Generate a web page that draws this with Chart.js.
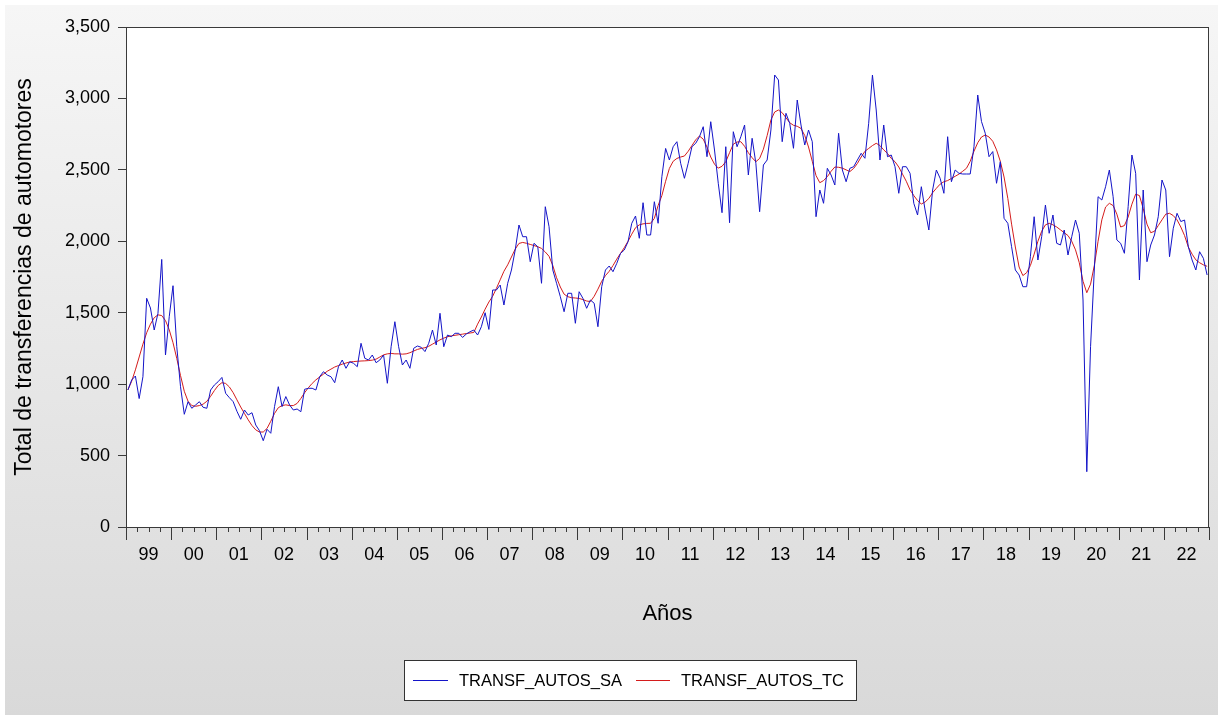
<!DOCTYPE html>
<html><head><meta charset="utf-8">
<script src="https://cdn.jsdelivr.net/npm/chart.js@4.4.0/dist/chart.umd.min.js"></script>
<style>html,body{margin:0;padding:0;background:#fff;overflow:hidden}canvas{display:block}</style>
</head><body>
<canvas id="c" width="1218" height="715"></canvas>
<script>
// ---- data (monthly, 1999M01 .. 2022M12) ----
const yearLabels = ['99','00','01','02','03','04','05','06','07','08','09','10','11','12','13','14','15','16','17','18','19','20','21','22'];
const yTickValues = [0,500,1000,1500,2000,2500,3000,3500];
const seriesNames = ['TRANSF_AUTOS_SA','TRANSF_AUTOS_TC'];
const yAxisTitle = 'Total de transferencias de automotores';
const xAxisTitle = 'Años';

const saValues = [
 959,1029,1057,899,1052,1601,1533,1379,1496,1873,1204,1472,
 1689,1262,982,789,877,831,854,877,838,831,959,994,
 1017,1047,936,905,877,810,754,819,784,800,714,674,
 604,684,656,843,982,843,913,854,819,826,807,964,
 971,971,959,1052,1087,1064,1052,1010,1122,1169,1111,1157,
 1146,1122,1286,1181,1169,1204,1150,1169,1204,1006,1262,1437,
 1262,1134,1169,1111,1251,1267,1258,1228,1286,1379,1274,1496,
 1262,1344,1332,1356,1356,1327,1351,1367,1379,1344,1402,1500,
 1383,1659,1659,1694,1554,1706,1799,1939,2114,2032,2032,1857,
 1986,1962,1706,2242,2102,1799,1706,1612,1507,1636,1636,1426,
 1647,1601,1531,1589,1566,1402,1682,1799,1827,1787,1845,1915,
 1939,1997,2126,2177,2021,2270,2044,2044,2277,2126,2452,2650,
 2569,2662,2697,2546,2441,2546,2662,2686,2732,2802,2592,2837,
 2639,2406,2200,2662,2130,2767,2662,2732,2814,2464,2721,2546,
 2207,2534,2569,2779,3164,3129,2697,2896,2826,2651,2989,2814,
 2674,2779,2697,2172,2359,2266,2511,2464,2394,2756,2499,2417,
 2511,2522,2569,2616,2581,2826,3164,2919,2569,2814,2592,2604,
 2522,2336,2522,2522,2476,2266,2184,2382,2219,2079,2359,2499,
 2441,2336,2732,2417,2499,2476,2471,2471,2471,2662,3024,2838,
 2756,2592,2628,2406,2557,2161,2126,1962,1799,1764,1682,1682,
 1892,2172,1869,2032,2254,2056,2184,1986,1974,2079,1904,2032,
 2149,2056,1589,387,1262,1799,2312,2289,2382,2499,2312,2009,
 1986,1916,2242,2604,2476,1729,2359,1857,1974,2044,2172,2429,
 2359,1892,2091,2196,2138,2149,1962,1869,1799,1927,1881,1764
];

const tcValues = [
 960,1020,1100,1190,1280,1360,1420,1465,1485,1480,1445,1380,
 1290,1180,1060,950,880,850,845,850,860,880,915,955,
 990,1010,1005,980,940,890,840,795,750,710,680,665,
 665,690,740,795,835,850,855,850,850,865,900,940,
 975,1005,1030,1050,1070,1090,1105,1120,1130,1140,1148,1155,
 1158,1160,1162,1163,1165,1168,1175,1190,1205,1212,1215,1212,
 1212,1210,1212,1220,1232,1243,1250,1255,1265,1280,1295,1310,
 1322,1332,1338,1342,1346,1350,1354,1358,1362,1420,1470,1525,
 1575,1615,1670,1730,1790,1835,1890,1945,1985,1992,1986,1978,
 1970,1962,1950,1925,1895,1830,1745,1680,1630,1612,1605,1603,
 1600,1592,1582,1578,1615,1665,1720,1760,1790,1830,1875,1915,
 1955,2000,2050,2095,2115,2122,2125,2126,2160,2250,2320,2420,
 2510,2560,2580,2590,2597,2630,2670,2710,2737,2715,2660,2590,
 2540,2512,2525,2557,2620,2680,2695,2697,2665,2620,2585,2557,
 2580,2645,2740,2849,2905,2919,2900,2865,2830,2812,2805,2790,
 2740,2660,2560,2460,2410,2425,2452,2490,2520,2518,2512,2500,
 2488,2510,2545,2590,2630,2650,2670,2686,2670,2640,2615,2580,
 2557,2520,2470,2420,2360,2320,2285,2261,2275,2300,2340,2371,
 2400,2417,2425,2440,2455,2470,2490,2511,2560,2630,2690,2730,
 2744,2730,2700,2640,2560,2450,2300,2120,1960,1820,1760,1780,
 1830,1910,2000,2070,2115,2126,2115,2100,2080,2060,2040,2000,
 1940,1850,1720,1640,1700,1830,2000,2150,2240,2266,2250,2190,
 2100,2110,2170,2260,2330,2320,2230,2120,2060,2070,2110,2150,
 2190,2196,2180,2150,2100,2040,1960,1910,1870,1850,1835,1825
];

// ---- chart ----
const FONT = "'Liberation Sans', Arial, Helvetica, sans-serif";
const toPoints = arr => arr.map((v, i) => ({ x: i + 0.5, y: v }));
const nMonths = yearLabels.length * 12;

const backgroundPlugin = {
  id: 'bg',
  beforeDraw(chart) {
    const { ctx, width, height } = chart;
    ctx.save();
    ctx.fillStyle = '#ffffff';
    ctx.fillRect(0, 0, width, height);
    const g = ctx.createLinearGradient(0, 5, 0, height);
    g.addColorStop(0, '#f6f6f6');
    g.addColorStop(1, '#d9d9d9');
    ctx.fillStyle = g;
    ctx.fillRect(5, 5, width - 5, height - 5);
    const a = chart.chartArea;
    ctx.fillStyle = '#ffffff';
    ctx.fillRect(a.left, a.top, a.right - a.left, a.bottom - a.top);
    ctx.restore();
  }
};

const framePlugin = {
  id: 'frame',
  afterDraw(chart) {
    const { ctx } = chart;
    const a = chart.chartArea;
    const xs = chart.scales.x;
    ctx.save();
    ctx.strokeStyle = '#3a3a3a';
    ctx.lineWidth = 1;
    ctx.strokeRect(Math.round(a.left) + 0.5, Math.round(a.top) + 0.5,
                   Math.round(a.right - a.left) - 1, Math.round(a.bottom - a.top));
    // year (major) and quarter (minor) tick marks
    ctx.beginPath();
    for (let m = 0; m <= nMonths; m += 3) {
      const px = Math.round(xs.getPixelForValue(m)) + 0.5;
      const len = (m % 12 === 0) ? 13 : 5;
      ctx.moveTo(px, a.bottom);
      ctx.lineTo(px, a.bottom + len);
    }
    ctx.stroke();

    // legend box
    const bx = 404, by = 660, bw = 452, bh = 40;
    ctx.fillStyle = '#ffffff';
    ctx.fillRect(bx, by, bw, bh);
    ctx.strokeStyle = '#333333';
    ctx.strokeRect(bx + 0.5, by + 0.5, bw, bh);
    const items = [
      { x0: 413, x1: 448, tx: 459 },
      { x0: 636, x1: 670, tx: 681 }
    ];
    ctx.font = '16.5px ' + FONT;
    ctx.textBaseline = 'middle';
    ctx.textAlign = 'left';
    chart.data.datasets.forEach((ds, i) => {
      const it = items[i];
      ctx.strokeStyle = ds.borderColor;
      ctx.beginPath();
      ctx.moveTo(it.x0, by + 20.5);
      ctx.lineTo(it.x1, by + 20.5);
      ctx.stroke();
      ctx.fillStyle = '#000';
      ctx.fillText(ds.label, it.tx, by + 21);
    });
    ctx.restore();
  }
};

new Chart(document.getElementById('c'), {
  type: 'line',
  data: {
    datasets: [
      { label: seriesNames[0], data: toPoints(saValues), borderColor: '#1414c8', borderWidth: 1, pointRadius: 0, tension: 0, fill: false },
      { label: seriesNames[1], data: toPoints(tcValues), borderColor: '#d41c1c', borderWidth: 1, pointRadius: 0, tension: 0, fill: false }
    ]
  },
  options: {
    responsive: false,
    animation: false,
    devicePixelRatio: 1,
    layout: { padding: { left: 4, right: 9, top: 27, bottom: 0 } },
    plugins: { legend: { display: false }, title: { display: false }, tooltip: { enabled: false } },
    scales: {
      x: {
        type: 'linear',
        min: 0,
        max: nMonths,
        afterFit: s => { s.height = 188; },
        afterBuildTicks: s => { s.ticks = yearLabels.map((_, k) => ({ value: 6 + 12 * k })); },
        grid: { drawOnChartArea: false, drawTicks: true, tickLength: 14, tickColor: 'rgba(0,0,0,0)' },
        border: { display: false },
        ticks: {
          autoSkip: false, maxRotation: 0, padding: 3, color: '#000',
          font: { family: FONT, size: 18 },
          callback: v => yearLabels[Math.round((v - 6) / 12)]
        },
        title: { display: true, text: xAxisTitle, color: '#000', font: { family: FONT, size: 22 }, padding: { top: 0, bottom: 88 } }
      },
      y: {
        min: 0,
        max: 3500,
        afterFit: s => { s.width = 122; },
        afterBuildTicks: s => { s.ticks = yTickValues.map(v => ({ value: v })); },
        grid: { drawOnChartArea: false, drawTicks: true, tickLength: 8, tickColor: '#3a3a3a' },
        border: { display: false },
        ticks: {
          padding: 8, color: '#000',
          font: { family: FONT, size: 18 },
          callback: v => v.toLocaleString('en-US')
        },
        title: { display: true, text: yAxisTitle, color: '#000', font: { family: FONT, size: 23 }, padding: { top: 7, bottom: 0 } }
      }
    }
  },
  plugins: [backgroundPlugin, framePlugin]
});
</script>
</body></html>
